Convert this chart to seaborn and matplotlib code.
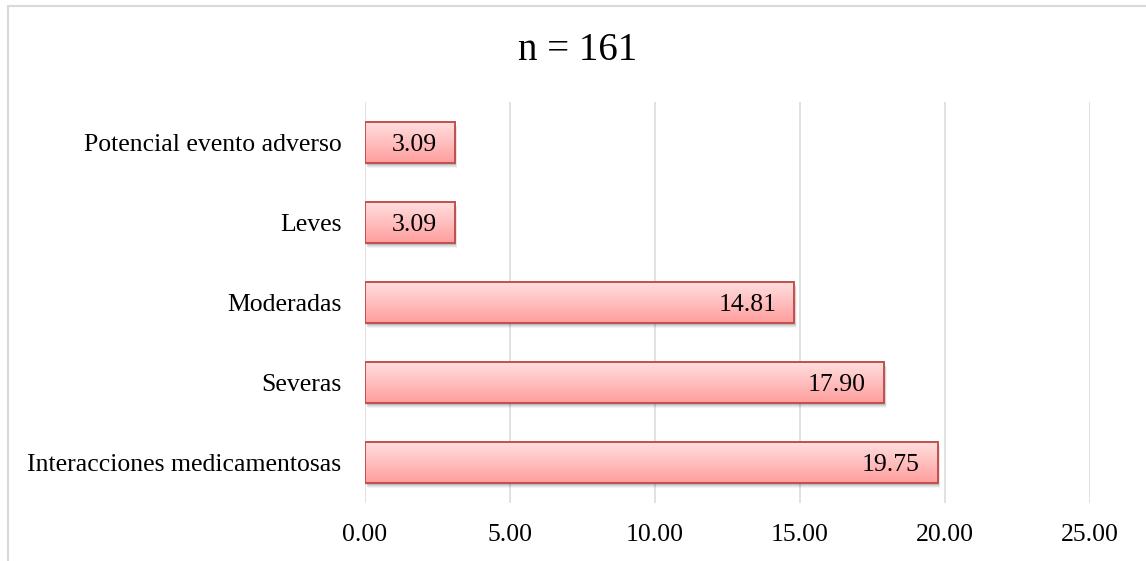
import numpy as np
import pandas as pd
import matplotlib
matplotlib.use("Agg")
import matplotlib.pyplot as plt
import matplotlib.transforms as mtransforms
from matplotlib.lines import Line2D
from matplotlib.patches import Rectangle
import seaborn as sns

categories = ["Potencial evento adverso", "Leves", "Moderadas", "Severas",
              "Interacciones medicamentosas"]
values = [3.09, 3.09, 14.81, 17.90, 19.75]
value_labels = ["3.09", "3.09", "14.81", "17.90", "19.75"]
xticks = [0, 5, 10, 15, 20, 25]
xtick_labels = ["0.00", "5.00", "10.00", "15.00", "20.00", "25.00"]
title = "n = 161"

sns.set_theme(style="white")
plt.rcParams["font.family"] = ["Liberation Serif", "DejaVu Serif"]

W, H = 1146, 561
fig = plt.figure(figsize=(W / 100, H / 100), dpi=100)
ax = fig.add_axes([365 / W, 58 / H, (1090 - 365) / W, (503 - 102) / H])

df = pd.DataFrame({"cat": categories, "val": values})
sns.barplot(data=df, x="val", y="cat", orient="h", ax=ax, width=0.51,
            color="#FFB8B8", edgecolor="#C0504D", linewidth=1.4,
            saturation=1, zorder=3)

ax.set_xlim(0, 25)
ax.set_ylim(4.5, -0.5)
ax.set_xticks(xticks)
ax.set_xticklabels(xtick_labels)
ax.set_xlabel("")
ax.set_ylabel("")
for s in ax.spines.values():
    s.set_visible(False)
ax.grid(axis="x", color="#D9D9D9", linewidth=1.1, zorder=0)
ax.grid(axis="y", visible=False)
ax.tick_params(axis="x", length=0, pad=15, labelsize=18.5, colors="black")
ax.tick_params(axis="y", length=0, pad=17, labelsize=18.5, colors="black")

# gradient: light pink top -> deeper pink bottom
top = np.array([255, 222, 222]) / 255
bot = np.array([255, 158, 158]) / 255
t = np.linspace(0, 1, 64)[:, None, None]
grad = top * (1 - t) + bot * t

label_tr = mtransforms.offset_copy(ax.transData, fig=fig, x=0, y=-2.5, units="dots")

for p, lab in zip(ax.patches, value_labels):
    x0, y0 = p.get_x(), p.get_y()
    w, h = p.get_width(), p.get_height()
    # shadow
    for i, a in enumerate([0.10, 0.08, 0.06, 0.04]):
        off = mtransforms.offset_copy(ax.transData, fig=fig,
                                      x=(1.0 + i * 0.5), y=-(2.0 + i * 1.0),
                                      units="dots")
        sh = Rectangle((x0, y0), w, h, transform=off, facecolor="black",
                       edgecolor="none", alpha=a, zorder=2)
        ax.add_patch(sh)
    im = ax.imshow(grad, extent=(x0, x0 + w, y0 + h, y0), origin="upper",
                   aspect="auto", zorder=3.5, interpolation="bilinear")
    im.set_clip_path(p)
    p.set_facecolor("none")
    p.set_zorder(4)
    ax.text(x0 + w - 0.62, y0 + h / 2, lab, ha="right", va="center",
            fontsize=18.5, color="black", zorder=5, transform=label_tr)

ax.set_xlim(0, 25)
ax.set_ylim(4.5, -0.5)

fig.text(578 / W, 1 - 50 / H, title, ha="center", va="center", fontsize=28,
         color="black")

# outer frame (top and left)
fig.add_artist(Line2D([8 / W, 1], [1 - 6 / H, 1 - 6 / H], transform=fig.transFigure,
                      color="#D9D9D9", linewidth=1.5))
fig.add_artist(Line2D([8 / W, 8 / W], [0, 1 - 6 / H], transform=fig.transFigure,
                      color="#D9D9D9", linewidth=1.5))

fig.savefig("out.png", dpi=100, facecolor="white")
